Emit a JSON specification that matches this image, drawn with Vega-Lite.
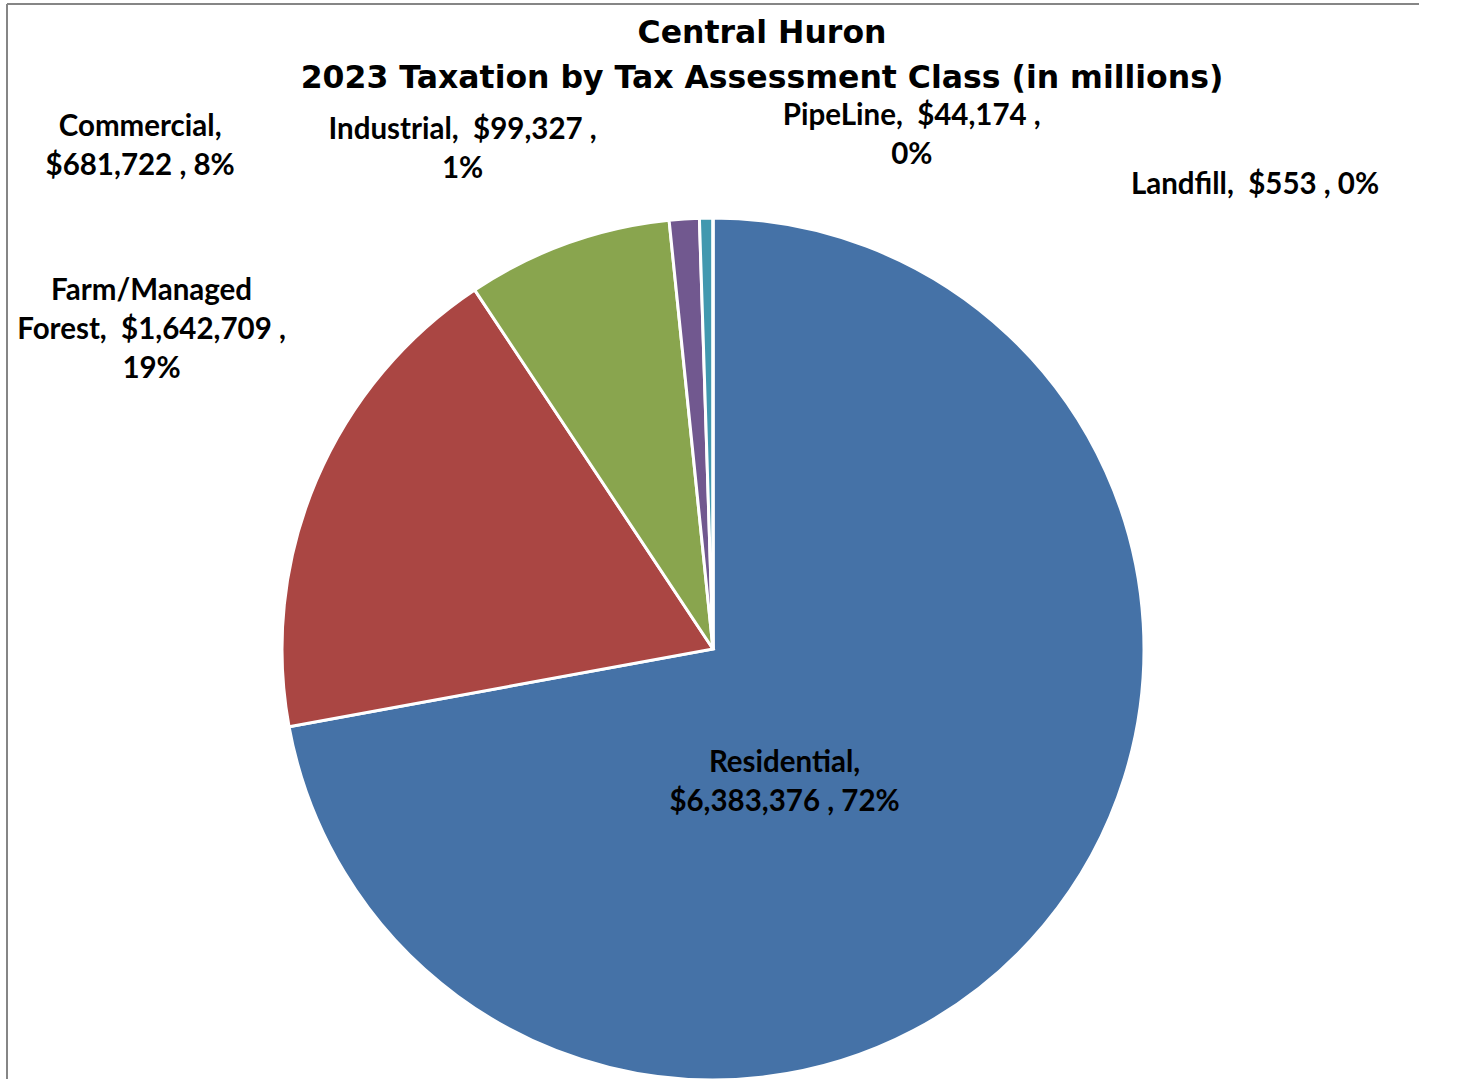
{
  "$schema": "https://vega.github.io/schema/vega-lite/v6.json",
  "autosize": {"type": "none"},
  "padding": {"left": 7, "top": 4, "right": 0, "bottom": 0},
  "width": 1412,
  "height": 1290,
  "background": "white",
  "view": {"stroke": "#868686", "strokeWidth": 2, "fill": "white", "strokeDash": [1412, 1290, 2702, 0]},
  "title": {
    "text": ["Central Huron", "2023 Taxation by Tax Assessment Class (in millions)"],
    "font": "DejaVu Sans",
    "fontWeight": "bold",
    "fontSize": 31.5,
    "lineHeight": 45,
    "anchor": "middle",
    "frame": "group",
    "dx": 49,
    "offset": -90,
    "color": "black"
  },
  "data": {
    "values": [
      {"order": 1, "cat": "Residential", "value": 6383376, "label": "Residential,\n$6,383,376 , 72%"},
      {"order": 2, "cat": "Farm/Managed Forest", "value": 1642709, "label": "Farm/Managed\nForest,\u00a0 $1,642,709 ,\n19%"},
      {"order": 3, "cat": "Commercial", "value": 681722, "label": "Commercial,\n$681,722 , 8%"},
      {"order": 4, "cat": "Industrial", "value": 99327, "label": "Industrial,\u00a0 $99,327 ,\n1%"},
      {"order": 5, "cat": "PipeLine", "value": 44174, "label": "PipeLine,\u00a0 $44,174 ,\n0%"},
      {"order": 6, "cat": "Landfill", "value": 553, "label": "Landfill,\u00a0 $553 , 0%"}
    ]
  },
  "transform": [
    {"stack": "value", "groupby": [], "sort": [{"field": "order", "order": "ascending"}], "as": ["v0", "v1"]},
    {"calculate": "(datum.v0 + datum.v1) / 2", "as": "mid"}
  ],
  "layer": [
    {
      "mark": {"type": "arc", "outerRadius": 431, "stroke": "white", "strokeWidth": 3},
      "encoding": {
        "theta": {"field": "v0", "type": "quantitative", "stack": null},
        "theta2": {"field": "v1"},
        "color": {
          "field": "cat",
          "type": "nominal",
          "legend": null,
          "scale": {
            "domain": ["Residential", "Farm/Managed Forest", "Commercial", "Industrial", "PipeLine", "Landfill"],
            "range": ["#4572A7", "#AA4643", "#89A54E", "#71588F", "#4198AF", "#DB843D"]
          }
        }
      }
    },
    {
      "transform": [{"filter": "datum.cat === 'Residential'"}],
      "mark": {"type": "text", "radius": 140, "dx": -36, "dy": 24, "font": "Lato", "fontWeight": "bold", "fontSize": 29.5, "lineHeight": 39, "lineBreak": "\n", "align": "center", "baseline": "middle", "color": "black"},
      "encoding": {"theta": {"field": "mid", "type": "quantitative", "stack": null}, "text": {"field": "label"}}
    },
    {
      "transform": [{"filter": "datum.cat === 'Farm/Managed Forest'"}],
      "mark": {"type": "text", "radius": 610, "dx": 0, "dy": -119, "font": "Lato", "fontWeight": "bold", "fontSize": 29.5, "lineHeight": 39, "lineBreak": "\n", "align": "center", "baseline": "middle", "color": "black"},
      "encoding": {"theta": {"field": "mid", "type": "quantitative", "stack": null}, "text": {"field": "label"}}
    },
    {
      "transform": [{"filter": "datum.cat === 'Commercial'"}],
      "mark": {"type": "text", "radius": 560, "dx": -384, "dy": 5, "font": "Lato", "fontWeight": "bold", "fontSize": 29.5, "lineHeight": 39, "lineBreak": "\n", "align": "center", "baseline": "middle", "color": "black"},
      "encoding": {"theta": {"field": "mid", "type": "quantitative", "stack": null}, "text": {"field": "label"}}
    },
    {
      "transform": [{"filter": "datum.cat === 'Industrial'"}],
      "mark": {"type": "text", "radius": 500, "dx": -217, "dy": -20, "font": "Lato", "fontWeight": "bold", "fontSize": 29.5, "lineHeight": 39, "lineBreak": "\n", "align": "center", "baseline": "middle", "color": "black"},
      "encoding": {"theta": {"field": "mid", "type": "quantitative", "stack": null}, "text": {"field": "label"}}
    },
    {
      "transform": [{"filter": "datum.cat === 'PipeLine'"}],
      "mark": {"type": "text", "radius": 516, "dx": 207, "dy": -17, "font": "Lato", "fontWeight": "bold", "fontSize": 29.5, "lineHeight": 39, "lineBreak": "\n", "align": "center", "baseline": "middle", "color": "black"},
      "encoding": {"theta": {"field": "mid", "type": "quantitative", "stack": null}, "text": {"field": "label"}}
    },
    {
      "transform": [{"filter": "datum.cat === 'Landfill'"}],
      "mark": {"type": "text", "radius": 466, "dx": 542, "dy": 2, "font": "Lato", "fontWeight": "bold", "fontSize": 29.5, "lineHeight": 39, "lineBreak": "\n", "align": "center", "baseline": "middle", "color": "black"},
      "encoding": {"theta": {"field": "mid", "type": "quantitative", "stack": null}, "text": {"field": "label"}}
    }
  ]
}
